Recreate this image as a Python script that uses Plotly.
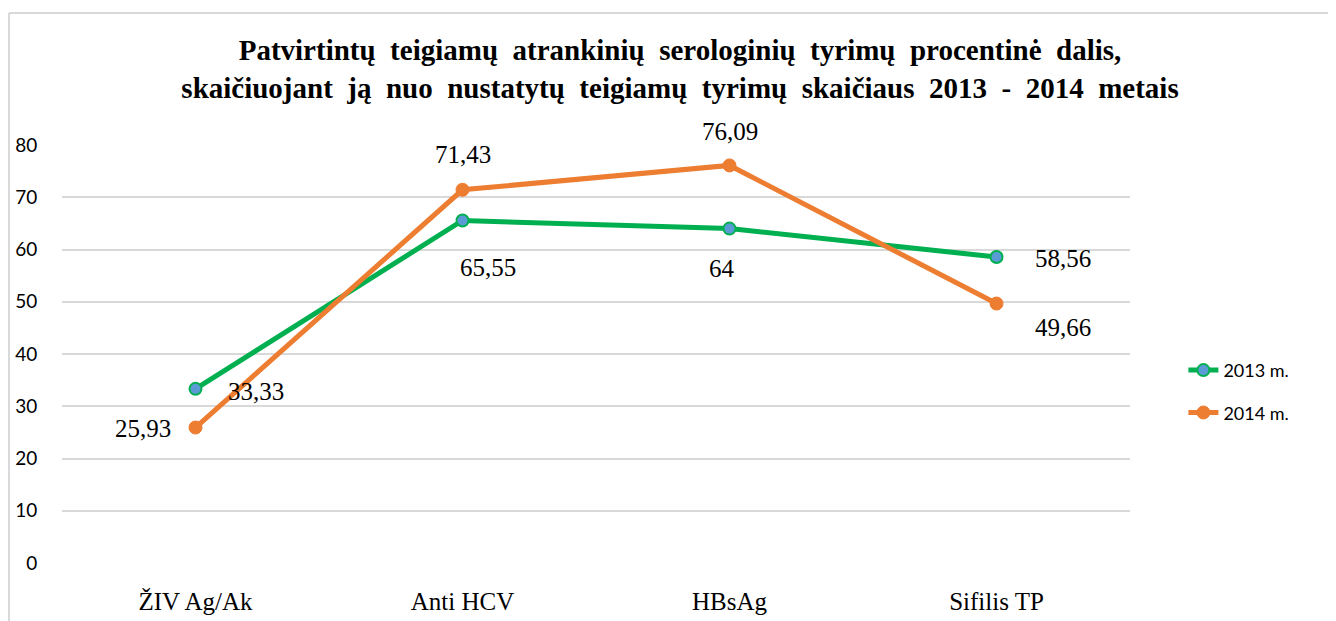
import plotly.graph_objects as go

categories = ["ŽIV Ag/Ak", "Anti HCV", "HBsAg", "Sifilis TP"]
series_names = ["2013 m.", "2014 m."]
values_2013 = [33.33, 65.55, 64, 58.56]
values_2014 = [25.93, 71.43, 76.09, 49.66]
y_ticks = [0, 10, 20, 30, 40, 50, 60, 70, 80]

title_lines = [
    "Patvirtintų  teigiamų  atrankinių  serologinių  tyrimų  procentinė  dalis,",
    "skaičiuojant  ją  nuo  nustatytų  teigiamų  tyrimų  skaičiaus  2013  -  2014  metais",
]

GREEN = "#00b050"
BLUE = "#5b9bd5"
ORANGE = "#ed7d31"

fig = go.Figure()
fig.add_trace(go.Scatter(
    x=categories, y=values_2013, name=series_names[0], mode="lines+markers",
    line=dict(color=GREEN, width=5),
    marker=dict(size=12, color=BLUE, line=dict(color=GREEN, width=2)),
    legendgroup="a",
))
fig.add_trace(go.Scatter(
    x=categories, y=values_2014, name=series_names[1], mode="lines+markers",
    line=dict(color=ORANGE, width=5),
    marker=dict(size=13, color=ORANGE, line=dict(color=ORANGE, width=1)),
    legendgroup="b",
))

def fmt(v):
    return f"{v:g}".replace(".", ",")

# label offsets (style only)
off_2013 = [(60, -3), (25, -47), (-8, -40), (66, -1)]
off_2014 = [(-53, -1), (0, 35), (0, 34), (66, -24)]

label_font = dict(family="Liberation Serif, Times New Roman, serif", size=25, color="#000000")
for vals, offs in ((values_2013, off_2013), (values_2014, off_2014)):
    for c, v, (dx, dy) in zip(categories, vals, offs):
        fig.add_annotation(x=c, y=v, text=fmt(v), showarrow=False,
                           xshift=dx, yshift=dy, font=label_font,
                           xanchor="center", yanchor="middle")

fig.update_layout(
    width=1336, height=621,
    paper_bgcolor="white", plot_bgcolor="white",
    margin=dict(l=54, r=214, t=137, b=66),
    title=dict(
        text="<br>".join(title_lines),
        x=0.503, xref="container", xanchor="center",
        y=0.916, yref="container", yanchor="middle",
        font=dict(family="Liberation Serif, Times New Roman, serif", size=29, color="#000000", weight="bold"),
    ),
    showlegend=True,
    legend=dict(
        x=1.05, xanchor="left", y=0.505, yanchor="top",
        font=dict(family="Lato, Open Sans, sans-serif", size=18, color="#000000"),
        tracegroupgap=16, bgcolor="rgba(0,0,0,0)",
    ),
    xaxis=dict(
        type="category", range=[-0.5, 3.5], automargin=False,
        showgrid=False, showline=False, zeroline=False,
        ticks="outside", ticklen=16, tickcolor="rgba(0,0,0,0)",
        tickfont=dict(family="Liberation Serif, Times New Roman, serif", size=25, color="#000000"),
    ),
    yaxis=dict(
        range=[0, 80], tickvals=y_ticks, automargin=False,
        showgrid=True, gridcolor="#d9d9d9", gridwidth=2,
        zeroline=False, showline=False,
        ticks="outside", ticklen=20, tickcolor="rgba(0,0,0,0)",
        tickfont=dict(family="Lato, Open Sans, sans-serif", size=19, color="#000000"),
    ),
)

# outer frame (light gray)
frame = dict(color="#d9d9d9", width=2)
fig.add_shape(type="line", xref="paper", yref="paper", x0=-0.0496, x1=1.21, y0=1.3158, y1=1.3158, line=frame)
fig.add_shape(type="line", xref="paper", yref="paper", x0=-0.0496, x1=-0.0496, y0=1.3158, y1=-0.17, line=frame)

fig.write_html("out.html")
